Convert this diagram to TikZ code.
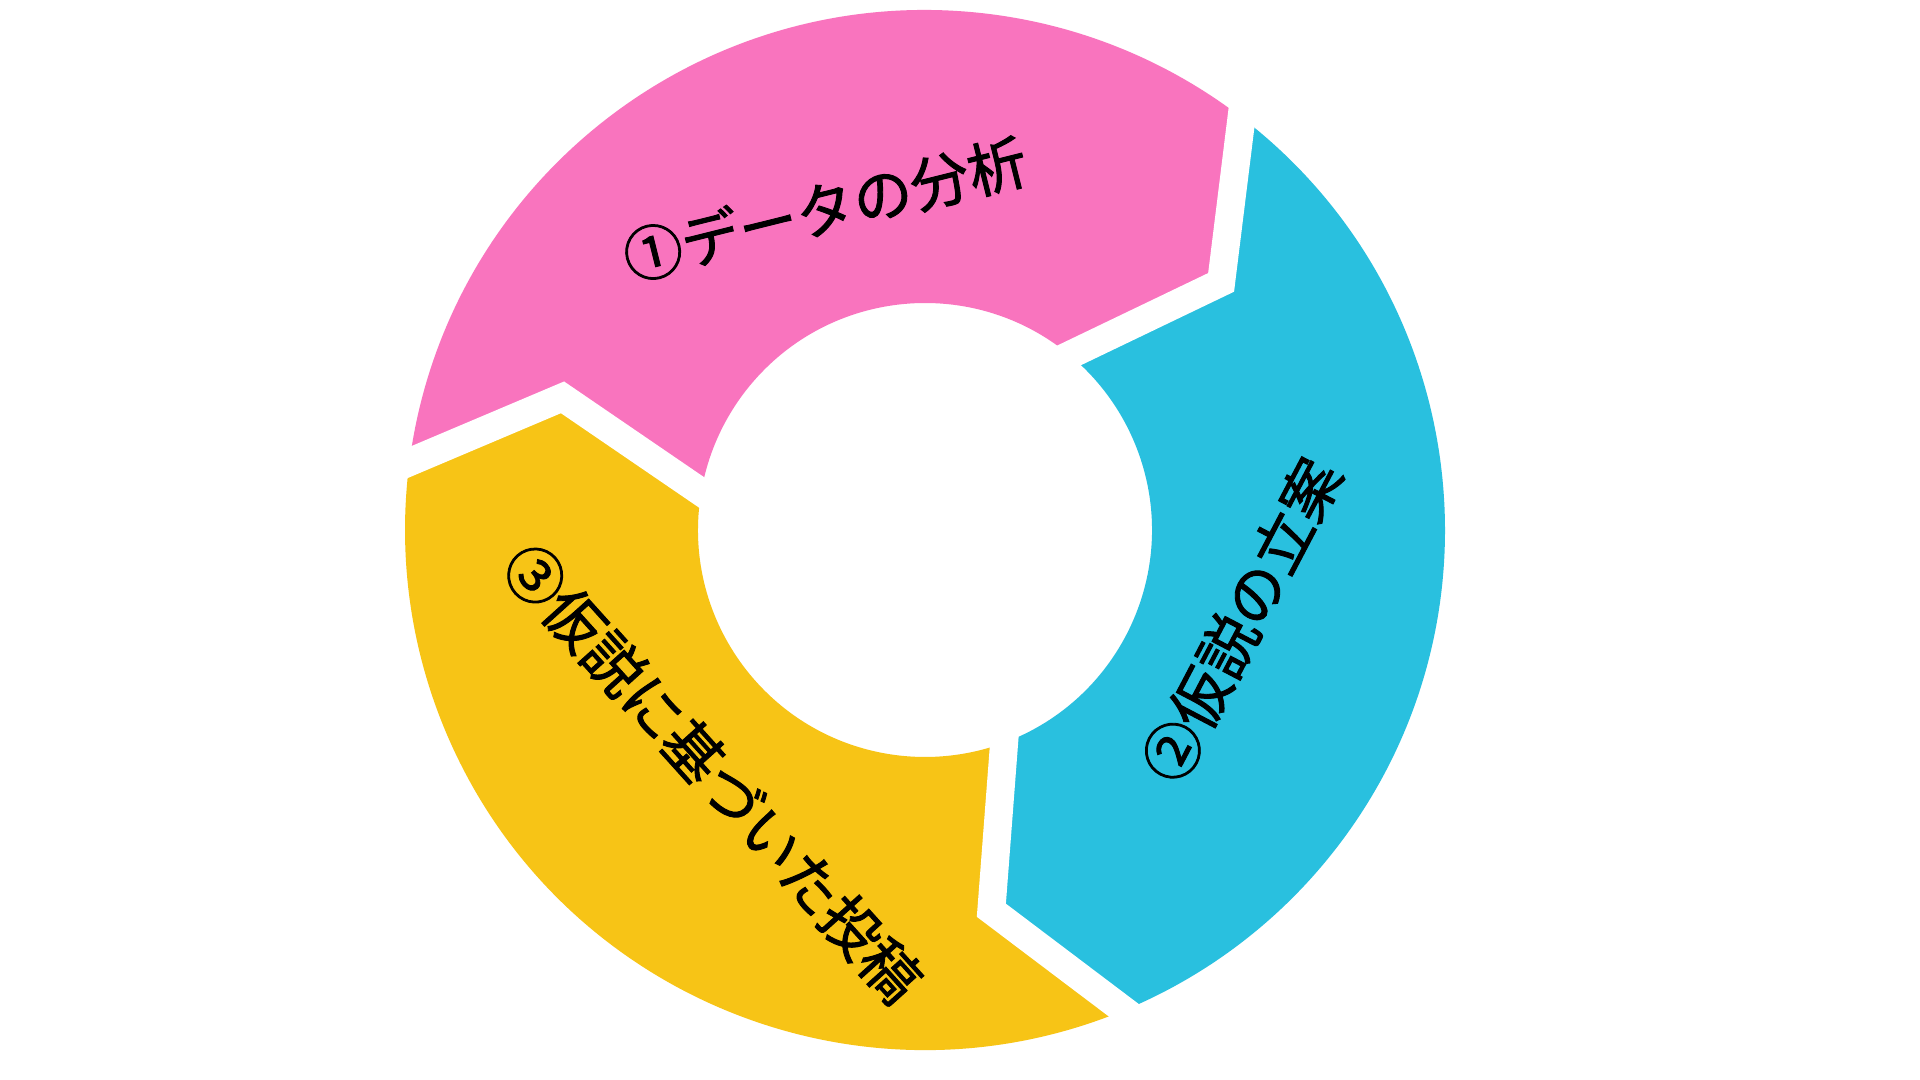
\documentclass[tikz,border=0pt]{standalone}
\usepackage{fontspec}
\usepackage{tikz}
\usetikzlibrary{calc}
\newfontfamily\jpfont[FakeBold=1.5]{Noto Sans CJK JP}
\definecolor{cycPink}{HTML}{F974BE}
\definecolor{cycBlue}{HTML}{29C0DF}
\definecolor{cycYellow}{HTML}{F7C416}
\tikzset{
  gapline/.style={white, line width=0.28cm, line join=miter},
  steplabel/.style={font=\jpfont\fontsize{16.8}{20}\selectfont, inner sep=0pt},
}

\begin{document}
\begin{tikzpicture}
\def\rOut{5.2}     % outer radius of the ring
\def\rIn{2.27}     % inner radius of the ring
\def\rTip{3.86}    % radius of the arrow tips
\def\aTip{12.6}    % how far the tip leads the outer corner
\def\aIn{2.1}      % how far the inner corner lags

%% Background / bounding box
\useasboundingbox (-9.25,-5.50) rectangle (9.95,5.30);
\fill[white] (-9.25,-5.50) rectangle (9.95,5.30);

%% Ring segments: start angle / colour (clockwise, 120 deg each)
\foreach \aS/\col in {172.5/cycPink, 52.5/cycBlue, -67.5/cycYellow} {
  \pgfmathsetmacro{\aE}{\aS-120}
  \pgfmathsetmacro{\aEi}{\aE-\aIn}
  \pgfmathsetmacro{\aSi}{\aS-\aIn}
  \fill[\col] (\aS:\rOut) arc[start angle=\aS, end angle=\aE, radius=\rOut]
    -- ({\aE-\aTip}:\rTip) -- (\aEi:\rIn)
    arc[start angle=\aEi, end angle=\aSi, radius=\rIn]
    -- ({\aS-\aTip}:\rTip) -- cycle;
}

%% Gaps between the segments
\foreach \aB [count=\k] in {52.5, -67.5, 172.5} {
  \coordinate (gapOut\k) at (\aB:\rOut);
  \coordinate (gapTip\k) at ({\aB-\aTip}:\rTip);
  \coordinate (gapIn\k)  at ({\aB-\aIn}:\rIn);
  \draw[gapline] ($(gapTip\k)!1.3!(gapOut\k)$) -- (gapTip\k)
    -- ($(gapTip\k)!1.3!(gapIn\k)$);
}

%% Step labels
\node[steplabel, rotate=14] (lblData) at (-1.0,3.21) {①データの分析};
\node[steplabel, rotate=62.3] (lblHypo) at (3.165,-0.90) {②仮説の立案};
\node[steplabel, rotate=-48] (lblPost) at (-2.12,-2.43) {③仮説に基づいた投稿};
\end{tikzpicture}
\end{document}
